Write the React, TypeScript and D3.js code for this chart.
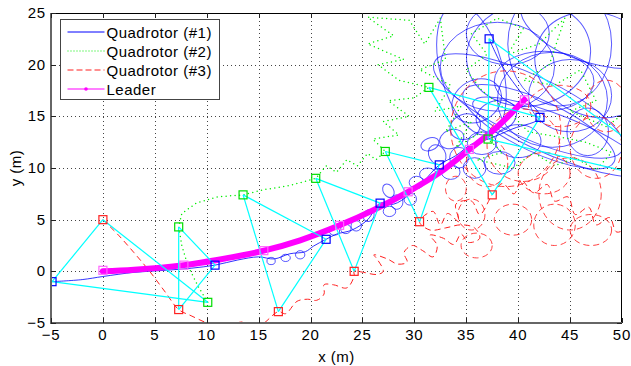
import { useEffect, useRef } from "react";
import * as d3 from "d3";

// axis ticks
const xTicks = [-5, 0, 5, 10, 15, 20, 25, 30, 35, 40, 45, 50];
const yTicks = [-5, 0, 5, 10, 15, 20, 25];

const seriesNames = ["Quadrotor (#1)", "Quadrotor (#2)", "Quadrotor (#3)", "Leader"];

// leader trajectory (x, y in m)
const leaderPath = [
  [0, 0], [3, 0.15], [7.8, 0.6], [11, 1.1], [15.5, 2.0], [19, 3.0], [22.8, 4.45],
  [26, 5.9], [29.4, 7.7], [32.5, 9.6], [35.3, 11.8], [38, 14], [40.6, 16.6],
];

// formation snapshots (same time index across vehicles)
const leaderSnap = [[0, 0.1], [7.8, 0.6], [15.5, 2.0], [22.8, 4.45], [29.4, 7.7], [35.3, 11.8], [40.6, 16.6]];
const quad1Snap = [[-4.9, -1.0], [10.8, 0.6], [21.5, 3.1], [26.7, 6.6], [32.4, 10.3], [42.1, 14.9], [37.2, 22.5]];
const quad2Snap = [[10.1, -3.0], [7.3, 4.3], [13.5, 7.4], [20.5, 9.0], [27.2, 11.6], [31.4, 17.8], [37.1, 12.8]];
const quad3Snap = [[0, 5.0], [7.3, -3.7], [16.9, -3.9], [24.2, 0.0], [30.5, 4.8], [37.5, 7.4], [56.7, 8.2]];

// quadrotor #1 main track
const quad1Path = [
  [-4.9, -1.0], [-2, -0.8], [0, -0.5], [3, -0.1], [6, 0.1], [8.5, 0.3], [10.8, 0.6],
  [13, 1.1], [15, 1.4], [16.5, 1.2], [18, 1.7], [19.5, 1.9], [20.3, 2.45], [21.5, 3.1],
  [22.5, 3.6], [24, 4.0], [25.5, 5.0], [26.7, 6.6], [28, 6.5], [29.5, 7.4], [30.8, 8.6],
  [32.4, 10.3], [34, 11.2], [35.5, 12.3], [37.1, 12.8], [39.5, 13.8], [42.1, 14.9],
  [40.5, 17], [38.5, 19.8], [37.2, 22.5],
];
// quadrotor #1 loops: cx, cy, rx, ry (m), tilt (deg)
const quad1Loops = [
  [16.2, 1.0, 0.4, 0.35, 0], [17.6, 1.3, 0.45, 0.35, 0], [19.0, 1.6, 0.45, 0.4, 0],
  [22.3, 3.9, 0.5, 0.4, 0], [23.4, 4.1, 0.5, 0.45, 0], [24.4, 4.4, 0.5, 0.5, 0],
  [25.6, 5.4, 0.5, 0.6, 30], [27.6, 5.8, 0.6, 0.5, 0], [28.3, 6.7, 0.6, 0.7, 0],
  [27.5, 7.8, 0.5, 0.7, -30], [29.6, 7.0, 0.6, 0.6, 0], [30.2, 8.6, 0.7, 0.6, 0],
  [31.3, 9.4, 0.8, 0.6, 0], [32.2, 11.3, 0.8, 1.0, -30], [33.5, 9.6, 0.9, 0.7, 0],
  [34.3, 11.0, 0.9, 1.0, 0], [31.5, 12.3, 0.9, 0.6, -20], [33.6, 12.8, 1.2, 0.9, -20],
  [35.8, 10.0, 1.1, 1.0, 0], [36.5, 12.4, 1.4, 1.1, 0], [34.9, 14.0, 1.5, 1.2, -20],
  [38.2, 10.5, 1.5, 1.1, 0], [37.9, 15.0, 2.0, 1.5, -20], [40.0, 12.6, 2.2, 1.6, 0],
  [36.0, 16.5, 2.5, 2.0, -30], [38.0, 19.8, 5.5, 4.3, 0], [42.5, 18.4, 4.8, 2.9, 0],
  [43.3, 16.6, 5.3, 4.6, 0], [46.7, 13.5, 2.0, 2.3, 0], [41.0, 21.0, 6.0, 5.0, -10],
  [44.0, 22.0, 5.0, 6.0, 0], [47.5, 20.0, 6.0, 5.0, 20], [42.0, 14.0, 8.0, 2.5, 25],
  [44.0, 13.0, 9.0, 2.0, 22], [41.0, 16.0, 10.0, 3.0, 25], [39.0, 23.0, 4.0, 3.0, 0],
  [48.0, 24.0, 8.0, 4.0, 15], [45.0, 17.0, 4.0, 3.5, 0], [35.5, 19.5, 3.0, 6.5, -15],
];

// quadrotor #2 track (dotted)
const quad2Path = [
  [10.1, -3.0], [9.2, -1.5], [8.2, 0.5], [7.6, 2.5], [7.3, 4.3], [7.6, 5.6], [9, 6.6],
  [11, 7.2], [13.5, 7.4], [15.5, 7.9], [18, 8.3], [20.5, 9.0], [21.5, 10.2], [22.5, 9.6],
  [23.5, 10.8], [24.5, 10.2], [25.5, 11.4], [26.3, 10.8], [27.2, 11.6], [26.0, 12.8],
  [28.5, 13.2], [27.0, 14.5], [29.5, 15.0], [27.5, 16.5], [30.0, 16.8], [31.4, 17.8],
  [28.5, 18.5], [26.5, 20.0], [29.0, 20.5], [25.5, 22.0], [28.0, 22.8], [25.5, 24.6],
  [29.5, 24.3], [31.0, 22.0], [32.5, 24.5], [33.0, 20.5], [30.5, 19.5], [33.5, 18.0],
  [32.0, 15.5], [34.5, 16.0], [33.0, 13.5], [35.5, 14.5], [34.0, 12.0], [36.5, 13.5],
  [37.1, 12.8], [38.5, 11.5], [36.0, 10.8], [39.5, 10.0], [41.5, 11.5], [43.5, 10.2],
  [45.5, 11.0], [47.5, 9.8], [49.0, 11.5], [46.5, 12.5], [44.0, 13.0], [41.0, 13.5],
  [39.0, 15.5], [36.5, 17.5], [35.0, 19.5], [37.0, 21.0], [35.5, 23.0], [38.0, 24.5],
  [40.5, 23.5], [39.0, 21.0], [42.0, 22.0], [44.5, 24.5], [43.0, 20.0], [40.5, 18.5],
  [43.5, 18.0], [46.0, 19.5], [47.5, 16.5], [45.0, 15.5], [48.5, 14.0], [50.5, 15.5],
];

// quadrotor #3 track (dashed)
const quad3Path = [
  [0, 5.0], [1.5, 3.5], [3, 1.8], [4.5, 0], [6, -2], [7.3, -3.7], [8.5, -4.3], [10, -5],
  [11, -5.4], [12.5, -5.1], [13.5, -4.9], [15, -5.3], [16.9, -3.9], [17.6, -4.1],
  [18.7, -2.9], [19.7, -2.7], [20.6, -2.8], [21.3, -2.2], [21.3, -1.3], [22.2, -1.3],
  [23.5, -1.6], [24.2, -0.45], [24.2, 0], [25.1, -0.1], [26.4, -0.3], [27.0, 0],
  [26.4, 1.2], [26.1, 1.6], [27.4, 1.2], [28.4, 0.7], [29.3, 0.9], [29.0, 1.8],
  [29.8, 2.5], [30.8, 2.0], [31.8, 1.4], [32.2, 2.5], [31.5, 3.5], [32.8, 3.2],
  [33.8, 2.6], [34.5, 3.6], [35.2, 2.8], [36.3, 3.2], [35.8, 4.2], [34.5, 4.5],
  [33, 4.2], [31.5, 4.0], [30.5, 4.8], [31.8, 5.8], [32.5, 4.5], [33.2, 5.6],
  [34.3, 4.8], [34, 6.5], [35.5, 6.8], [36.3, 5.5], [37.5, 7.4], [38.5, 8.5],
  [39.6, 7.5], [40.3, 8.8], [41.5, 7.6], [42.8, 8.4], [43.5, 6.8], [44.8, 7.2],
  [45.5, 5.5], [46.8, 6.2], [47.5, 4.5], [48.8, 5.2], [49.5, 3.8], [51, 4.5],
];
const quad3Loops = [
  [38.8, 13.8, 5.3, 5.6, 0], [40.5, 12.2, 3.5, 3.5, 0], [37.0, 10.5, 2.0, 2.3, 0],
  [42.5, 9.5, 2.5, 2.0, 0], [45.0, 7.5, 3.0, 3.5, 0], [47.5, 12.0, 2.5, 3.0, 0],
  [43.5, 4.5, 2.0, 2.0, 0], [39.5, 5.0, 1.8, 1.5, 0], [35.5, 5.5, 1.3, 1.5, 0],
  [47.0, 4.0, 2.0, 1.5, 0], [34.0, 8.0, 1.0, 1.2, 0], [44.0, 16.0, 3.0, 2.0, 0],
  [48.5, 16.0, 2.0, 2.5, 0], [36.0, 2.5, 1.5, 1.2, 0],
];

const W = 631;
const H = 366;

function FormationPlot() {
  const svgRef = useRef(null);

  useEffect(() => {
    const svg = d3.select(svgRef.current);
    svg.selectAll("*").remove();

    const left = 51, right = 622, top = 13, bottom = 323;
    const x = d3.scaleLinear().domain([-5, 50]).range([left, right]);
    const y = d3.scaleLinear().domain([-5, 25]).range([bottom, top]);
    const font = "'Liberation Sans', Arial, sans-serif";

    svg.append("rect").attr("width", W).attr("height", H).attr("fill", "#fff");

    svg.append("defs").append("clipPath").attr("id", "plotClip")
      .append("rect").attr("x", left).attr("y", top)
      .attr("width", right - left).attr("height", bottom - top);

    // dotted grid
    const grid = svg.append("g").attr("stroke", "#444").attr("stroke-width", 1)
      .attr("stroke-dasharray", "1 3");
    grid.selectAll("line.gx").data(xTicks.slice(1, -1)).join("line")
      .attr("x1", (d) => Math.round(x(d)) + 0.5).attr("x2", (d) => Math.round(x(d)) + 0.5)
      .attr("y1", top).attr("y2", bottom);
    grid.selectAll("line.gy").data(yTicks.slice(1, -1)).join("line").attr("class", "gy")
      .attr("y1", (d) => Math.round(y(d)) + 0.5).attr("y2", (d) => Math.round(y(d)) + 0.5)
      .attr("x1", left).attr("x2", right);

    const plot = svg.append("g").attr("clip-path", "url(#plotClip)").attr("fill", "none");
    const smooth = d3.line().x((d) => x(d[0])).y((d) => y(d[1])).curve(d3.curveCatmullRom);
    const straight = d3.line().x((d) => x(d[0])).y((d) => y(d[1]));

    const drawLoops = (loops, color, dash, opacity) => {
      plot.append("g").selectAll("ellipse").data(loops).join("ellipse")
        .attr("transform", (d) => `translate(${x(d[0])},${y(d[1])}) rotate(${d[4]})`)
        .attr("rx", (d) => x(d[2]) - x(0))
        .attr("ry", (d) => y(0) - y(d[3]))
        .attr("stroke", color).attr("stroke-width", 1)
        .attr("stroke-opacity", opacity)
        .attr("stroke-dasharray", dash);
    };

    // quadrotor #1
    plot.append("path").attr("d", smooth(quad1Path)).attr("stroke", "#0000ff")
      .attr("stroke-width", 1).attr("stroke-opacity", 0.8);
    drawLoops(quad1Loops, "#0000ff", null, 0.65);

    // quadrotor #2 (scattered dots)
    plot.append("path").attr("d", straight(quad2Path)).attr("stroke", "#00ee00")
      .attr("stroke-width", 1.5).attr("stroke-linecap", "round")
      .attr("stroke-dasharray", "0 4.5");

    // quadrotor #3
    plot.append("path").attr("d", smooth(quad3Path)).attr("stroke", "#ff2020")
      .attr("stroke-width", 1).attr("stroke-dasharray", "6 4");
    drawLoops(quad3Loops, "#ff2020", "6 4", 0.85);

    // leader
    plot.append("path").attr("d", smooth(leaderPath)).attr("stroke", "#ff00ff")
      .attr("stroke-width", 6).attr("stroke-linecap", "round");

    // formation triangles
    const links = [];
    quad1Snap.forEach((p, i) => {
      links.push([p, quad2Snap[i]], [quad2Snap[i], quad3Snap[i]], [quad3Snap[i], p]);
    });
    plot.append("g").selectAll("line").data(links).join("line")
      .attr("x1", (d) => x(d[0][0])).attr("y1", (d) => y(d[0][1]))
      .attr("x2", (d) => x(d[1][0])).attr("y2", (d) => y(d[1][1]))
      .attr("stroke", "#00ffff").attr("stroke-width", 1.2);

    const squares = (pts, color) => {
      plot.append("g").selectAll("rect").data(pts).join("rect")
        .attr("x", (d) => x(d[0]) - 4).attr("y", (d) => y(d[1]) - 4)
        .attr("width", 8).attr("height", 8)
        .attr("stroke", color).attr("stroke-width", 1.2);
    };
    squares(leaderSnap, "#ff66ff");
    squares(quad1Snap, "#0000ff");
    squares(quad2Snap, "#00dd00");
    squares(quad3Snap, "#ff2020");

    // axes box with inward ticks
    const ax = svg.append("g");
    ax.append("line").attr("x1", left).attr("x2", right).attr("y1", top + 0.5).attr("y2", top + 0.5)
      .attr("stroke", "#000");
    ax.append("line").attr("x1", right - 0.5).attr("x2", right - 0.5).attr("y1", top).attr("y2", bottom)
      .attr("stroke", "#000");
    ax.append("line").attr("x1", left).attr("x2", right).attr("y1", bottom).attr("y2", bottom)
      .attr("stroke", "#666").attr("stroke-width", 2);
    ax.append("line").attr("x1", left).attr("x2", left).attr("y1", top).attr("y2", bottom + 1)
      .attr("stroke", "#666").attr("stroke-width", 2);

    const tk = ax.append("g").attr("stroke", "#222");
    xTicks.forEach((t) => {
      const px = Math.round(x(t)) + 0.5;
      tk.append("line").attr("x1", px).attr("x2", px).attr("y1", bottom).attr("y2", bottom - 5);
      tk.append("line").attr("x1", px).attr("x2", px).attr("y1", top).attr("y2", top + 5);
    });
    yTicks.forEach((t) => {
      const py = Math.round(y(t)) + 0.5;
      tk.append("line").attr("x1", left).attr("x2", left + 5).attr("y1", py).attr("y2", py);
      tk.append("line").attr("x1", right).attr("x2", right - 5).attr("y1", py).attr("y2", py);
    });

    const fmt = (v) => (v < 0 ? "\u2212" + Math.abs(v) : String(v));
    ax.append("g").selectAll("text").data(xTicks).join("text")
      .attr("x", (d) => x(d)).attr("y", 340).attr("text-anchor", "middle")
      .attr("font-family", font).attr("font-size", 15).attr("letter-spacing", 0.8)
      .text(fmt);
    ax.append("g").selectAll("text").data(yTicks).join("text")
      .attr("x", 46).attr("y", (d) => y(d) + 5).attr("text-anchor", "end")
      .attr("font-family", font).attr("font-size", 15).attr("letter-spacing", 0.8)
      .text(fmt);

    svg.append("text").attr("x", (left + right) / 2).attr("y", 362).attr("text-anchor", "middle")
      .attr("font-family", font).attr("font-size", 15).attr("letter-spacing", 0.5).text("x (m)");
    svg.append("text").attr("transform", `translate(21,${(top + bottom) / 2}) rotate(-90)`)
      .attr("text-anchor", "middle").attr("font-family", font).attr("font-size", 15)
      .attr("letter-spacing", 0.5).text("y (m)");

    // legend
    const lg = svg.append("g").attr("transform", "translate(60.5,19.5)");
    lg.append("rect").attr("width", 159).attr("height", 80).attr("fill", "#fff")
      .attr("stroke", "#444");
    const legendStyle = [
      { color: "#0000ff", dash: null, width: 1 },
      { color: "#00ee00", dash: "1 2", width: 1.2 },
      { color: "#ff2020", dash: "6 3", width: 1 },
      { color: "#ff00ff", dash: null, width: 1.2 },
    ];
    seriesNames.forEach((name, i) => {
      const ly = 12.5 + i * 19;
      lg.append("line").attr("x1", 7).attr("x2", 44).attr("y1", ly).attr("y2", ly)
        .attr("stroke", legendStyle[i].color).attr("stroke-width", legendStyle[i].width)
        .attr("stroke-dasharray", legendStyle[i].dash);
      if (i === 3) {
        lg.append("circle").attr("cx", 25.5).attr("cy", ly).attr("r", 1.8)
          .attr("fill", "#ff00ff");
      }
      lg.append("text").attr("x", 46).attr("y", ly + 5.5)
        .attr("font-family", font).attr("font-size", 15).attr("letter-spacing", 0.5)
        .text(name);
    });
  }, []);

  return <svg ref={svgRef} width={W} height={H} style={{ display: "block" }} />;
}

export default function App() {
  return (
    <div style={{ position: "absolute", left: 0, top: 0 }}>
      <FormationPlot />
    </div>
  );
}
